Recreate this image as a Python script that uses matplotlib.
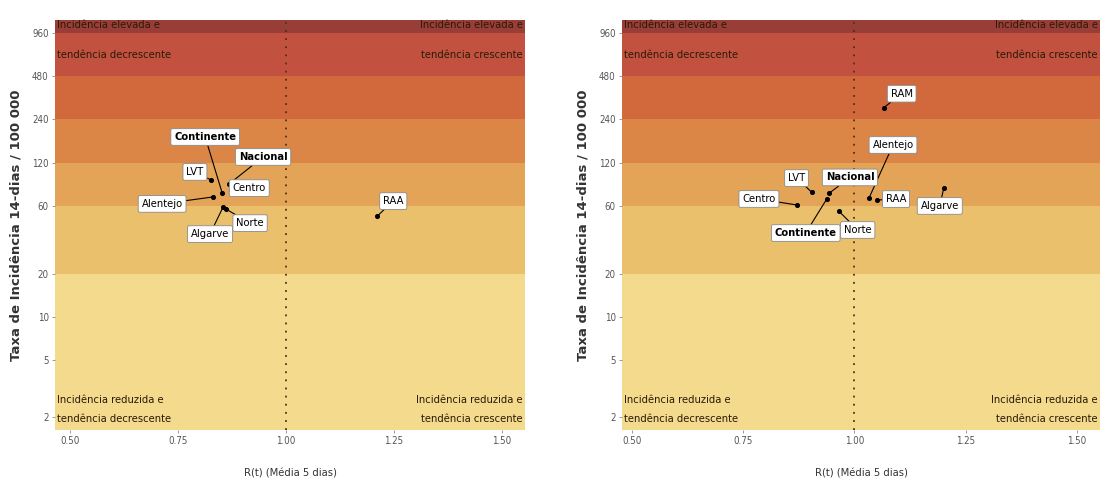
import matplotlib
matplotlib.use("Agg")
import matplotlib.pyplot as plt
import matplotlib.ticker as mticker

NARROW = ['Liberation Sans Narrow', 'DejaVu Sans']

######### DATA #########
# left panel
regions_left = ['Continente', 'Nacional', 'LVT', 'Centro', 'Alentejo', 'Norte', 'Algarve', 'RAA']
rt_left = [0.852, 0.868, 0.826, 0.873, 0.831, 0.861, 0.854, 1.211]
inc_left = [73.5, 85.0, 90.7, 77.0, 69.0, 56.7, 58.6, 50.7]

# right panel
regions_right = ['RAM', 'Alentejo', 'RAA', 'Algarve', 'LVT', 'Nacional', 'Continente', 'Centro', 'Norte']
rt_right = [1.066, 1.033, 1.051, 1.201, 0.904, 0.943, 0.938, 0.871, 0.965]
inc_right = [290.0, 67.8, 65.6, 79.7, 74.6, 73.0, 66.7, 60.6, 55.0]

y_ticks = [2, 5, 10, 20, 60, 120, 240, 480, 960]
x_ticks = [0.50, 0.75, 1.00, 1.25, 1.50]
x_ticklabels = ['0.50', '0.75', '1.00', '1.25', '1.50']
band_edges = [20, 60, 120, 240, 480, 960]

######### STYLE #########
band_colors = ['#F3DA8D', '#EBC06D', '#E4A457', '#DB8646', '#D1693D', '#C2523F', '#983E36']
bold_regions = ['Continente', 'Nacional']

# label offsets from each point, in pixels (dx right, dy down)
offs_left = {'Continente': (-17, -56), 'Nacional': (34, -27), 'LVT': (-16, -8), 'Centro': (18, -2),
             'Alentejo': (-51, 7), 'Norte': (24, 14), 'Algarve': (-13, 27), 'RAA': (16, -15)}
offs_right = {'RAM': (18, -14), 'Alentejo': (24, -53), 'RAA': (19, -1), 'Algarve': (-4, 18),
              'LVT': (-15, -14), 'Nacional': (21, -16), 'Continente': (-21, 34), 'Centro': (-38, -6),
              'Norte': (19, 19)}

YLIM = (1.62, 1190)


def draw_panel(ax, names, xs, ys, offs, xlim):
    lo = YLIM[0]
    edges = [lo] + band_edges + [YLIM[1]]
    for i in range(len(edges) - 1):
        ax.axhspan(edges[i], edges[i + 1], color=band_colors[i], lw=0, zorder=0)

    ax.axvline(1.0, color='#4a3318', lw=1.3, ls=(0, (1, 3.5)), zorder=1)

    ax.scatter(xs, ys, s=7, c='black', zorder=3)
    for name, x, y in zip(names, xs, ys):
        dx, dy = offs[name]
        ax.annotate(name, (x, y), xytext=(dx * 0.72, -dy * 0.72), textcoords='offset points',
                    ha='center', va='center', fontsize=8, family=NARROW, fontstretch='condensed',
                    fontweight='bold' if name in bold_regions else 'normal',
                    bbox=dict(boxstyle='round,pad=0.3,rounding_size=0.15', fc='white', ec='#8a8a8a', lw=0.6),
                    arrowprops=dict(arrowstyle='-', color='black', lw=0.8, shrinkA=0, shrinkB=0),
                    zorder=4)

    ax.set_yscale('log')
    ax.set_ylim(*YLIM)
    ax.set_xlim(*xlim)
    ax.set_yticks(y_ticks)
    ax.yaxis.set_major_formatter(mticker.FixedFormatter([str(t) for t in y_ticks]))
    ax.yaxis.set_minor_locator(mticker.NullLocator())
    ax.set_xticks(x_ticks)
    ax.set_xticklabels(x_ticklabels)
    ax.tick_params(axis='both', length=2.5, width=0.6, color='#888888', labelsize=7,
                   labelcolor='#555555', pad=2)
    for lab in ax.get_xticklabels() + ax.get_yticklabels():
        lab.set_family(NARROW)
        lab.set_stretch('condensed')
    for s in ax.spines.values():
        s.set_visible(False)

    # quadrant notes
    tkw = dict(transform=ax.transAxes, fontsize=8, family=NARROW, fontstretch='condensed',
               color='#2a1a08', va='center', zorder=2)
    ax.text(0.004, 0.988, 'Incidência elevada e', ha='left', **tkw)
    ax.text(0.004, 0.915, 'tendência decrescente', ha='left', **tkw)
    ax.text(0.995, 0.988, 'Incidência elevada e', ha='right', **tkw)
    ax.text(0.995, 0.915, 'tendência crescente', ha='right', **tkw)
    ax.text(0.004, 0.073, 'Incidência reduzida e', ha='left', **tkw)
    ax.text(0.004, 0.028, 'tendência decrescente', ha='left', **tkw)
    ax.text(0.995, 0.073, 'Incidência reduzida e', ha='right', **tkw)
    ax.text(0.995, 0.028, 'tendência crescente', ha='right', **tkw)


def main():
    fig = plt.figure(figsize=(11, 4.88), dpi=100)

    ax1 = fig.add_axes([55 / 1100, 58 / 488, 470 / 1100, 410 / 488])
    ax2 = fig.add_axes([622 / 1100, 58 / 488, 478 / 1100, 410 / 488])

    draw_panel(ax1, regions_left, rt_left, inc_left, offs_left, (0.465, 1.553))
    draw_panel(ax2, regions_right, rt_right, inc_right, offs_right, (0.478, 1.552))

    ylab = 'Taxa de Incidência 14-dias / 100 000'
    for xpx in (16, 583):
        fig.text(xpx / 1100, 1 - 225 / 488, ylab, rotation=90, ha='center', va='center',
                 fontsize=9.5, fontweight='bold', color='#333333', family='DejaVu Sans')
    for xpx in (290, 861):
        fig.text(xpx / 1100, 1 - 474 / 488, 'R(t) (Média 5 dias)', ha='center', va='center',
                 fontsize=8, color='#333333', family=NARROW, fontstretch='condensed')

    fig.savefig('out.png', dpi=100)


if __name__ == '__main__':
    main()
